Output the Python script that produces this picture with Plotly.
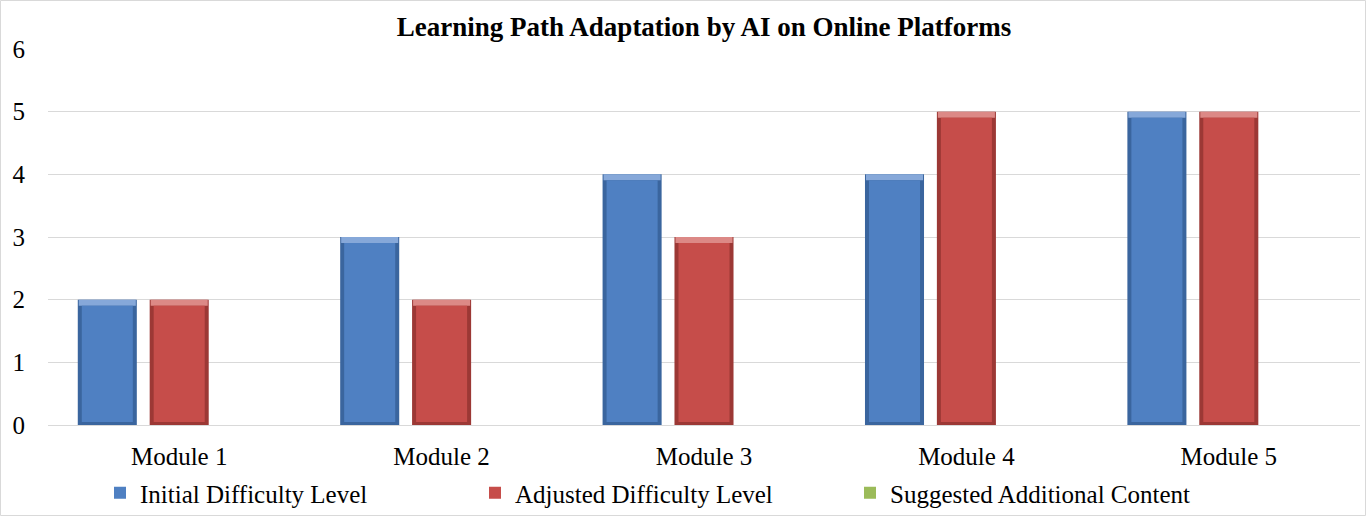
import plotly.graph_objects as go

categories = ["Module 1", "Module 2", "Module 3", "Module 4", "Module 5"]
initial = [2, 3, 4, 4, 5]
adjusted = [2, 2, 3, 5, 5]
suggested = [0, 0, 0, 0, 0]
y_ticks = [0, 1, 2, 3, 4, 5, 6]

FONT = "Liberation Serif, Times New Roman, serif"

W, H = 1366, 516
L, R, T, B = 48, 6, 49, 91
pw, ph = W - L - R, H - T - B
ymax = 6
px_x = 1.0 / (pw / len(categories))   # category units per pixel
px_y = ymax / ph                        # data units per pixel

BAR_W = 0.225
SLOT = 0.274
series = [
    ("Initial Difficulty Level", initial, -SLOT, dict(edge="#3A659E", top="#86A8D9", face="#4F80C2")),
    ("Adjusted Difficulty Level", adjusted, 0.0, dict(edge="#9C3835", top="#DC8986", face="#C64D4A")),
    ("Suggested Additional Content", suggested, SLOT, dict(edge="#6F8A3C", top="#C2D79A", face="#9BBB59")),
]

fig = go.Figure()
top_h = 6 * px_y
side = 4 * px_x
for name, vals, center, c in series:
    off = center - BAR_W / 2
    has_bars = any(v > 0 for v in vals)
    if has_bars:
        # dark outer edge (full bar)
        fig.add_trace(go.Bar(x=categories, y=vals, width=BAR_W, offset=off,
                             marker=dict(color=c["edge"], line=dict(width=0)),
                             showlegend=False, hoverinfo="skip", legendgroup=name))
        # light top bevel
        fig.add_trace(go.Bar(x=categories, y=[top_h if v > 0 else 0 for v in vals],
                             base=[v - top_h for v in vals],
                             width=BAR_W - 2 * px_x, offset=off + px_x,
                             marker=dict(color=c["top"], line=dict(width=0)),
                             showlegend=False, hoverinfo="skip", legendgroup=name))
    # face (carries the legend entry)
    fig.add_trace(go.Bar(x=categories,
                         y=[max(v - top_h - 3 * px_y, 0) if v > 0 else 0 for v in vals],
                         base=[3 * px_y if v > 0 else 0 for v in vals],
                         width=BAR_W - 2 * side, offset=off + side,
                         marker=dict(color=c["face"], line=dict(width=0)),
                         name=name, legendgroup=name, customdata=vals,
                         hovertemplate="%{x}: %{customdata}<extra>" + name + "</extra>"))

fig.update_layout(
    width=W, height=H,
    margin=dict(l=L, r=R, t=T, b=B, autoexpand=False),
    paper_bgcolor="white", plot_bgcolor="white",
    font=dict(family=FONT, size=25, color="black"),
    title=dict(text="<b>Learning Path Adaptation by AI on Online Platforms</b>",
               x=0.5, xanchor="center", xref="paper", y=1 - 27 / H, yanchor="middle",
               font=dict(family=FONT, size=27, color="black")),
    barmode="overlay",
    showlegend=True,
    legend=dict(orientation="h", x=(100 - L) / pw, xanchor="left",
                yref="container", y=1 - 493 / H, yanchor="middle",
                font=dict(family=FONT, size=25, color="black"),
                entrywidth=330, entrywidthmode="pixels", itemwidth=30,
                traceorder="normal", bgcolor="rgba(0,0,0,0)"),
    xaxis=dict(showgrid=False, showline=True, linecolor="#D9D9D9", linewidth=1,
               ticks="outside", ticklen=9, tickcolor="rgba(0,0,0,0)",
               automargin=False,
               tickfont=dict(family=FONT, size=25, color="black")),
    yaxis=dict(range=[0, ymax], tickvals=y_ticks, showgrid=True, gridcolor="#D9D9D9",
               gridwidth=1, zeroline=False, showline=False, automargin=False,
               ticks="outside", ticklen=17, tickcolor="rgba(0,0,0,0)",
               tickfont=dict(family=FONT, size=25, color="black")),
    shapes=[dict(type="rect", xref="paper", yref="paper",
                 x0=-(L - 0.5) / pw, x1=1 + (R - 0.5) / pw,
                 y0=-(B - 0.5) / ph, y1=1 + (T - 0.5) / ph,
                 line=dict(color="#D9D9D9", width=1), fillcolor="rgba(0,0,0,0)",
                 layer="below")],
)

fig.write_html("out.html", config={"displayModeBar": False},
               post_script="document.body.style.margin='0';document.body.style.overflow='hidden';")
